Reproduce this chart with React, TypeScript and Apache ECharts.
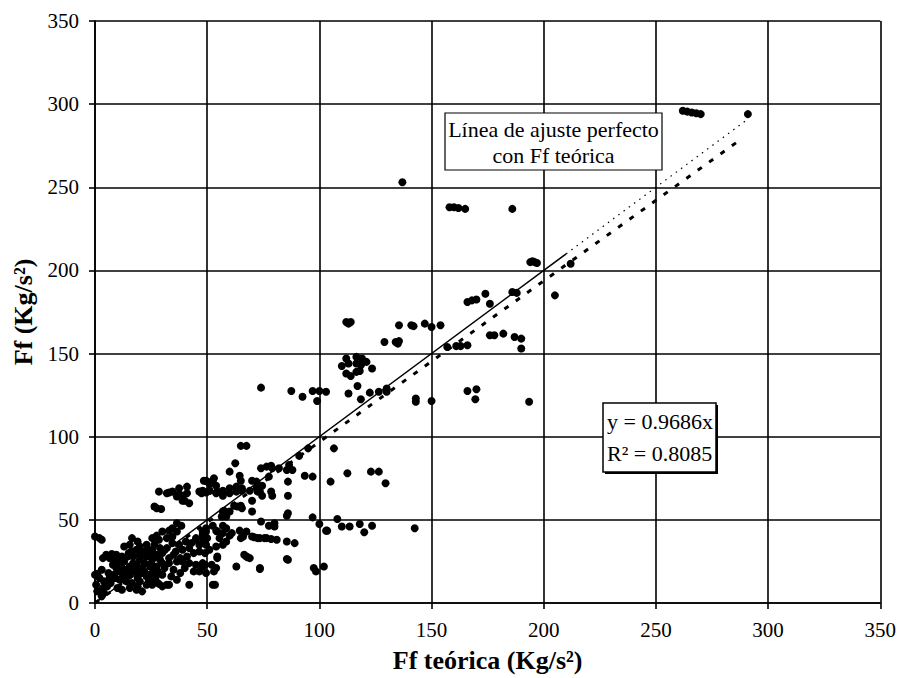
import React, { useEffect, useRef } from "react";
import * as echarts from "echarts";

// Observed points: [Ff teórica, Ff] (Kg/s²)
const puntosAltos: number[][] = [
  [137, 253], [158, 238], [160, 238], [162, 237.5], [165, 237], [186, 237],
  [262, 296], [264, 295.5], [266, 295], [268, 294.5], [270, 294], [291, 294],
  [212, 204], [194, 205], [195, 205.5], [196, 205], [197, 204.5], [205, 185],
  [186, 187], [188, 186.5], [174, 186], [176, 180], [166, 181], [168, 182], [170, 182.5],
  [176, 161], [178, 161], [182, 162], [187, 160], [190, 159], [190, 153],
  [161, 154.5], [163, 154.5], [166, 155], [157, 154],
  [135.5, 167], [141, 167], [142, 166.5], [147, 168], [150, 166], [154, 167],
  [129, 157], [134, 157], [135, 156], [135.5, 157.5],
  [112, 169], [114, 169], [113, 168],
  [112, 147], [116.5, 148], [119, 147], [121, 145], [113, 144], [116.5, 144], [118.5, 143],
  [110, 142.5], [123.5, 141], [112, 138], [114, 136.5], [116.5, 139], [118, 139.5],
  [117, 130.5], [113, 126], [118.5, 122.5], [122.5, 126.5], [126.5, 127], [130, 129], [130, 127],
  [87.5, 127.5], [92.5, 124], [97, 127.5], [100, 127.5], [103, 127], [99, 121.5], [74, 129.5],
  [143, 123], [143, 121], [150, 121.5], [166, 127.5], [170, 128.5], [169.5, 122.5], [193.5, 121],
  [126.5, 79], [129.5, 72], [142.5, 45],
];

const puntosMedios: number[][] = [
  [65, 94.5], [67.5, 94.5], [106.5, 93], [62.5, 84], [60, 79], [64.5, 76.5], [65, 73.5],
  [74, 81], [76.5, 82], [79, 81], [82, 81], [85.5, 80], [88, 80], [78.5, 82.5],
  [70, 73.5], [72, 73], [77.5, 76], [86, 73], [93.5, 76.5], [97, 76], [105, 73], [112.5, 78], [123, 79],
  [49.5, 73.5], [52.5, 73.5], [54, 70.5], [48, 67.5], [51, 67.5], [54, 66], [57, 64.5], [60, 66],
  [63, 67], [65.5, 67.5], [69, 67.5],
  [72.5, 67], [74.5, 64.5], [78.5, 67], [79, 64.5], [86, 64.5],
  [65, 58.5], [63.5, 58], [65.5, 57], [70, 61.5], [70, 55], [57.5, 55.5], [56.5, 52], [85.5, 52.5],
  [86, 54], [97, 51.5],
  [100, 47.5], [103, 43.5], [103.5, 43.5], [108, 50.5], [110, 46], [113.5, 46], [118, 47.5], [120, 42.5], [123.5, 46.5],
  [74, 49], [77.5, 46.5], [80, 46], [80, 48],
  [52.5, 46.5], [49.5, 45], [48, 43], [54.5, 43], [57, 42], [60, 40.5], [64.5, 43.5],
  [65, 39], [71, 39.5], [72.5, 39], [75.5, 39], [78.5, 38.5], [81, 38], [85.5, 37], [89, 36],
  [49, 40], [49, 36], [49.5, 35],
  [54.5, 28], [66.5, 29], [68, 27.5], [49, 23], [63, 22], [53, 19], [73.5, 20.5], [85.5, 26.5], [86, 26],
  [97.5, 21], [98.5, 19], [102, 22],
  [52.5, 11], [53.5, 11],
  [86.5, 83], [91, 88.5], [95, 93],
];

const puntosBajos: number[][] = [
  [48.5, 73.5], [53, 75], [51, 72],
  [28.5, 67], [33, 66.5], [37.5, 65.5], [37.5, 69], [41, 70], [39, 61.5], [42, 60], [26.5, 58], [29.5, 56.5],
  [47.5, 66], [49.5, 66.5], [51, 67.5],
  [32, 66], [34.5, 67], [36.5, 64], [39, 64.5], [41, 66], [40, 61.5],
  [46.5, 67], [50, 73], [52.5, 72], [54.5, 67], [57, 67.5], [60, 69], [63, 70], [65.5, 69], [72, 69], [74.5, 70.5],
  [73.5, 67],
  [27.5, 57], [62, 58.5], [60, 55], [58.5, 52], [57, 55],
  [36.5, 48], [38.5, 46.5], [34.5, 45], [36.5, 43], [33, 43.5], [30, 43], [27.5, 40.5], [25.5, 39], [28.5, 38], [32, 39], [34.5, 40],
  [16.5, 39], [19, 37], [15.5, 35], [13, 34], [20, 34], [23, 35], [23.5, 32], [21, 31], [18.5, 32], [16.5, 31],
  [26.5, 35], [25.5, 32], [27.5, 29], [25, 28], [23, 28],
  [2, 39], [3, 38], [0, 40],
  [34.5, 36], [37.5, 35], [40.5, 37], [39, 32],
  [43, 36], [45, 38], [48, 39], [46.5, 35], [49, 37],
  [5, 29], [7.5, 29.5], [9.5, 29], [12, 28], [14.5, 28], [6.5, 27], [3.5, 27], [8.5, 26], [11, 25],
  [9.5, 21], [12, 21], [15.5, 22], [18.5, 23], [21, 21], [24.5, 22], [27.5, 22], [30, 24], [33, 24],
  [36.5, 25], [39, 25], [42, 24], [45, 23], [48, 24],
  [8.5, 17], [12, 18], [15.5, 17], [18.5, 18], [21, 18], [24.5, 17], [27.5, 17], [30, 17],
  [0, 17], [2, 15], [6.5, 15], [11, 14], [14, 13], [16.5, 12], [20, 13], [23, 11], [25.5, 11], [28.5, 11.5], [32, 11],
  [0.5, 11], [1, 7], [3.5, 9], [5.5, 10], [3, 4], [4, 6],
  [10, 9], [12, 8], [15.5, 9], [18.5, 8], [21, 7],
  [36.5, 14], [42, 11], [33, 11], [30, 10],
  [46.5, 19], [49.5, 18], [48, 22], [52, 23],
  [54.5, 27], [54, 21], [67.5, 28], [69, 27], [73.5, 21],
  [46.5, 31], [49, 30], [51, 32], [54, 34], [57, 35], [58.5, 37], [55.5, 39],
  [57, 46.5], [58.5, 45], [54, 43.5], [61, 42], [67.5, 43], [66, 40],
  [70, 40], [73.5, 39], [76.5, 39],
  [49.5, 43], [48, 41], [50, 39], [45, 39],
  [14, 20], [17, 24], [20, 26], [22, 19], [25, 24], [28, 19], [13, 16], [19, 15], [24, 14], [26, 20],
  [17, 28], [11, 23], [29, 26], [31, 21], [22, 24], [26, 27], [16, 19],
  [4, 13], [6, 18], [3, 20], [1, 17.5],
  [30, 30], [32, 33], [35, 29], [33, 27], [41, 28], [44, 30], [38, 27],
  [10, 19], [13, 25], [18, 21], [23, 16], [27, 14], [8, 23], [20, 29], [35, 20], [40, 21], [44, 19],
  [15, 30], [24, 31], [36, 31], [42, 33], [7, 12], [9, 15], [34, 16], [38, 18], [29, 33], [19, 10],
];

// Trend line y = 0.9686x and the perfect-fit line y = x
const pendiente = 0.9686;
const rCuadrado = 0.8085;
const xFinTendencia = 287;
const ajustePerfectoSolido: number[][] = [[0, 0], [210, 210]];
const ajustePerfectoPunteado: number[][] = [[210, 210], [290, 290]];

const xTicks = [0, 50, 100, 150, 200, 250, 300, 350];

export default function App() {
  const ref = useRef<HTMLDivElement>(null);
  useEffect(() => {
    if (!ref.current) return;
    const chart = echarts.init(ref.current, null, { renderer: "svg" });
    const serif = "'Liberation Serif', 'Times New Roman', serif";
    const lineaTendencia = [
      [0, 0],
      [xFinTendencia, pendiente * xFinTendencia],
    ];
    const axisCommon = {
      type: "value" as const,
      min: xTicks[0],
      max: xTicks[xTicks.length - 1],
      interval: 50,
      axisLine: { show: true, lineStyle: { color: "#000", width: 1.6 } },
      axisTick: { show: true, inside: false, length: 6, lineStyle: { color: "#000", width: 1.6 } },
      splitLine: { show: true, lineStyle: { color: "#000", width: 1.6 } },
      nameLocation: "middle" as const,
      nameTextStyle: { fontFamily: serif, fontSize: 26, fontWeight: "bold" as const, color: "#000" },
    };
    chart.setOption({
      animation: false,
      backgroundColor: "#fff",
      grid: { left: 95, top: 21, width: 786, height: 584, containLabel: false },
      xAxis: {
        ...axisCommon,
        name: "Ff teórica (Kg/s²)",
        nameGap: 44,
        axisLabel: { fontFamily: serif, fontSize: 21, color: "#000", margin: 16 },
      },
      yAxis: {
        ...axisCommon,
        name: "Ff (Kg/s²)",
        nameGap: 54,
        axisLabel: { fontFamily: serif, fontSize: 21, color: "#000", margin: 16 },
      },
      series: [
        {
          type: "scatter",
          data: [...puntosBajos, ...puntosMedios, ...puntosAltos],
          symbol: "circle",
          symbolSize: 8,
          itemStyle: { color: "#000", opacity: 1 },
          z: 2,
        },
        {
          type: "line",
          data: ajustePerfectoSolido,
          symbol: "none",
          lineStyle: { color: "#000", width: 1.5 },
          z: 3,
        },
        {
          type: "line",
          data: ajustePerfectoPunteado,
          symbol: "none",
          lineStyle: { color: "#000", width: 1.2, type: [1.5, 5] },
          z: 3,
        },
        {
          type: "line",
          data: lineaTendencia,
          symbol: "none",
          lineStyle: { color: "#000", width: 3, type: [5, 9] },
          z: 3,
        },
      ],
      graphic: [
        {
          type: "rect",
          shape: { x: 445, y: 113, width: 217, height: 57 },
          style: { fill: "#fff", stroke: "#000", lineWidth: 1.2 },
          z: 10,
        },
        {
          type: "text",
          x: 553.5,
          y: 142,
          style: {
            text: "Línea de ajuste perfecto\ncon Ff teórica",
            fontFamily: serif,
            fontSize: 22,
            lineHeight: 26,
            fill: "#000",
            align: "center",
            verticalAlign: "middle",
          },
          z: 11,
        },
        {
          type: "rect",
          shape: { x: 605, y: 405, width: 113, height: 69 },
          style: { fill: "#000" },
          z: 10,
        },
        {
          type: "rect",
          shape: { x: 603, y: 403, width: 113, height: 69 },
          style: { fill: "#fff", stroke: "#000", lineWidth: 1.5 },
          z: 11,
        },
        {
          type: "text",
          x: 607,
          y: 421,
          style: {
            text: "y = " + pendiente.toFixed(4) + "x",
            fontFamily: serif,
            fontSize: 22,
            fill: "#000",
            align: "left",
            verticalAlign: "middle",
          },
          z: 12,
        },
        {
          type: "text",
          x: 607,
          y: 453,
          style: {
            text: "R² = " + rCuadrado.toFixed(4),
            fontFamily: serif,
            fontSize: 22,
            fill: "#000",
            align: "left",
            verticalAlign: "middle",
          },
          z: 12,
        },
      ],
    });
    return () => chart.dispose();
  }, []);
  return (
    <div
      ref={ref}
      style={{ position: "fixed", left: 0, top: 0, width: 899, height: 678, background: "#fff" }}
    />
  );
}
